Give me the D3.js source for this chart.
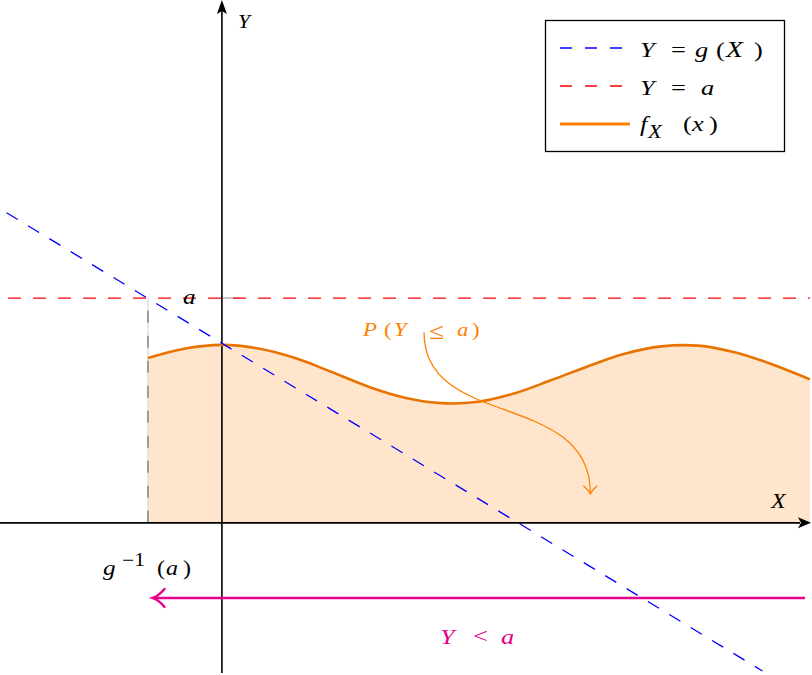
<!DOCTYPE html>
<html><head><meta charset="utf-8">
<script src="https://cdn.jsdelivr.net/npm/d3@7"></script>
<style>body{margin:0;background:#fff}svg{display:block}</style></head>
<body>
<svg id="c" width="812" height="675"></svg>
<script>
// ---- data (in plot units) ----
const xDomain = [-3.03, 8.03];
const yDomain = [-2.05, 7.14];
const curveX = [-1.01, -0.5, 0, 0.5, 1.0, 1.5, 2.0, 2.5, 3.0, 3.5, 4.0, 4.5, 5.0, 5.5, 6.0, 6.5, 7.0, 7.5, 8.03];
const curveY = [2.25, 2.38, 2.43, 2.38, 2.25, 2.06, 1.86, 1.71, 1.635, 1.655, 1.77, 1.95, 2.14, 2.31, 2.41, 2.42, 2.33, 2.17, 1.96];
const gLineX = [-2.94, 7.38];
const gLineY = [4.235, -2.022];
const aValue = 3.07;
const gInvA = -1.01;
const aLineX = [-2.92, 8.03];
const arrowY = -1.025;
const arrowX = [7.96, -0.92];
const annotX = [2.76, 2.76, 5.03, 5.03];
const annotY = [2.60, 1.27, 1.81, 0.41];
const legendLabels = ["Y = g(X)", "Y = a", "f_X(x)"];

const svg = d3.select("#c");
const x = d3.scaleLinear().domain(xDomain).range([0, 810]);
const y = d3.scaleLinear().domain(yDomain).range([673, 0]);

const FONT = "'Liberation Serif', serif";
const pts = curveX.map((v, i) => [v, curveY[i]]);

// fill
svg.append("path")
  .attr("d", d3.area().x(d => x(d[0])).y0(y(0)).y1(d => y(d[1])).curve(d3.curveCatmullRom)(pts))
  .attr("fill", "#ffe5cc");

// gray helper lines
svg.append("line").attr("x1", x(gInvA)).attr("x2", x(gInvA)).attr("y1", y(0)).attr("y2", y(aValue))
  .attr("stroke", "#e2e2e2").attr("stroke-width", 1.6);
svg.append("line").attr("x1", x(gInvA)).attr("x2", x(gInvA)).attr("y1", y(0)).attr("y2", y(aValue))
  .attr("stroke", "#8a8a8a").attr("stroke-width", 1.6).attr("stroke-dasharray", "12,13");
svg.append("line").attr("x1", x(0)).attr("x2", x(0.25)).attr("y1", y(aValue)).attr("y2", y(aValue))
  .attr("stroke", "#aaa").attr("stroke-width", 1.4);

// axes
const axisG = svg.append("g");
axisG.append("line").attr("x1", 0).attr("x2", 800).attr("y1", y(0)).attr("y2", y(0))
  .attr("stroke", "#000").attr("stroke-width", 1.6);
axisG.append("line").attr("x1", x(0)).attr("x2", x(0)).attr("y1", 673).attr("y2", 10)
  .attr("stroke", "#000").attr("stroke-width", 1.6);
const X0 = x(0), Y0 = y(0);
axisG.append("path").attr("d", `M811,${Y0} L798,${Y0-5.5} L801,${Y0} L798,${Y0+5.5} Z`).attr("fill", "#000");
axisG.append("path").attr("d", `M${X0},0 L${X0-5},14 L${X0},11 L${X0+5},14 Z`).attr("fill", "#000");

// main curve
svg.append("path")
  .attr("d", d3.line().x(d => x(d[0])).y(d => y(d[1])).curve(d3.curveCatmullRom)(pts))
  .attr("fill", "none").attr("stroke", "#e87300").attr("stroke-width", 2.6);

// g line
svg.append("line").attr("x1", x(gLineX[0])).attr("y1", y(gLineY[0])).attr("x2", x(gLineX[1])).attr("y2", y(gLineY[1]))
  .attr("stroke", "#0000ff").attr("stroke-width", 1.3).attr("stroke-dasharray", "13,12");

// a line
svg.append("line").attr("x1", x(aLineX[0])).attr("x2", x(aLineX[1])).attr("y1", y(aValue)).attr("y2", y(aValue))
  .attr("stroke", "#ff0000").attr("stroke-width", 1.3).attr("stroke-dasharray", "13,12");

// annotation arrow
const ap = annotX.map((v, i) => [x(v), y(annotY[i])]);
svg.append("path")
  .attr("d", `M${ap[0]} C${ap[1]} ${ap[2]} ${ap[3]}`)
  .attr("fill", "none").attr("stroke", "#ff8000").attr("stroke-width", 1.3);
const tp = ap[3];
svg.append("path")
  .attr("d", `M${tp[0]-7},${tp[1]-7} Q${tp[0]-2},${tp[1]-3} ${tp[0]},${tp[1]+1} Q${tp[0]+2},${tp[1]-3} ${tp[0]+7},${tp[1]-7}`)
  .attr("fill", "none").attr("stroke", "#ff8000").attr("stroke-width", 1.3);

// magenta arrow
const ax1 = x(arrowX[0]), ax2 = x(arrowX[1]), ay = y(arrowY);
svg.append("line").attr("x1", ax1).attr("x2", ax2 - 1).attr("y1", ay).attr("y2", ay)
  .attr("stroke", "#e6008a").attr("stroke-width", 2.6);
svg.append("path")
  .attr("d", `M${ax2+10},${ay-9} Q${ax2+4},${ay-2} ${ax2-2},${ay} Q${ax2+4},${ay+2} ${ax2+10},${ay+9}`)
  .attr("fill", "none").attr("stroke", "#e6008a").attr("stroke-width", 2.4).attr("stroke-linecap", "round");

// math text helper: parts = [text, x, baseline, size, italic]; glyphs widened like the TeX rendering
function mathText(parts, color, sx = 1.2) {
  const g = svg.append("g");
  parts.forEach(p => {
    g.append("text").attr("transform", `translate(${p[1]},${p[2]}) scale(${sx},1)`)
      .attr("fill", color).attr("font-family", FONT).attr("font-size", p[3])
      .attr("font-style", p[4] ? "italic" : "normal").text(p[0]);
  });
  return g;
}

// axis labels
mathText([["Y", 238, 28, 18, true]], "#000");
mathText([["X", 771, 508, 20, true]], "#000");
mathText([["a", 183, 304, 21, true]], "#000");
mathText([["g", 103, 575, 21, true], ["\u22121", 122, 566, 18, false], ["(", 157, 575, 20, false], ["a", 166, 575, 20, true], [")", 183, 575, 20, false]], "#000");
mathText([["P", 363, 336, 19, true], ["(", 384, 336, 19, false], ["Y", 394, 336, 19, true], ["\u2264", 429, 339, 23, false], ["a", 457, 336, 19, true], [")", 472, 336, 19, false]], "#ff8000");
mathText([["Y", 440, 644, 22, true], ["<", 473, 643, 22, false], ["a", 501, 644, 22, true]], "#e6008a");

// legend
const lg = svg.append("g");
lg.append("rect").attr("x", 545.5).attr("y", 20.5).attr("width", 239).attr("height", 131)
  .attr("fill", "#fff").attr("stroke", "#000").attr("stroke-width", 1.3);
const legendRows = [
  {color: "#0000ff", dash: "12,13", width: 1.3, y: 48},
  {color: "#ff0000", dash: "12,13", width: 1.3, y: 86},
  {color: "#ff8000", dash: null, width: 2.8, y: 124}
];
legendRows.forEach(r => {
  lg.append("line").attr("x1", 560).attr("x2", 630).attr("y1", r.y).attr("y2", r.y)
    .attr("stroke", r.color).attr("stroke-width", r.width).attr("stroke-dasharray", r.dash);
});
mathText([["Y", 640, 57, 22, true], ["=", 671, 57, 22, false], ["g", 695, 57, 22, true], ["(", 716, 57, 22, false], ["X", 726, 57, 23, true], [")", 754, 57, 22, false]], "#000");
mathText([["Y", 640, 95, 22, true], ["=", 671, 95, 22, false], ["a", 701, 95, 22, true]], "#000");
mathText([["f", 640, 131, 22, true], ["X", 648, 138, 19, true], ["(", 683, 131, 22, false], ["x", 692, 131, 22, true], [")", 709, 131, 22, false]], "#000");
</script>
</body></html>
